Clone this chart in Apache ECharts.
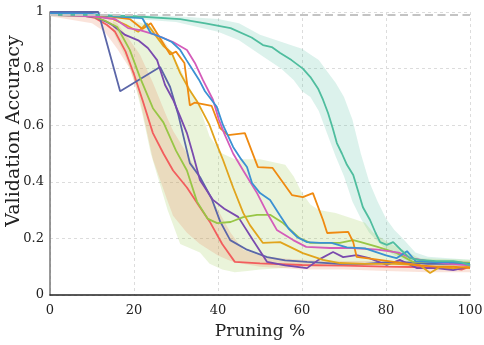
<!DOCTYPE html>
<html>
<head>
<meta charset="utf-8">
<script src="https://cdn.jsdelivr.net/npm/echarts@6/dist/echarts.min.js"></script>
<style>
  html, body { margin: 0; padding: 0; background: #fff; }
  #chart { width: 484px; height: 345px; }
</style>
</head>
<body>
<div id="chart"></div>
<script>
// x ticks / y ticks
const xTicks = [0, 20, 40, 60, 80, 100];
const yTicks = [0, 0.2, 0.4, 0.6, 0.8, 1];
const baseline = 0.99;

// series values: [pruning %, accuracy]
const teal = [[0,0.99],[10,0.99],[20,0.985],[31,0.975],[37,0.96],[43,0.943],[48,0.91],[50.7,0.883],[52.8,0.876],[54.8,0.855],[57.5,0.83],[60.2,0.8],[62,0.77],[63.8,0.73],[65,0.69],[66.2,0.643],[67.3,0.59],[68.3,0.537],[69.5,0.5],[70.7,0.46],[72.2,0.424],[73.3,0.37],[74.5,0.31],[76.2,0.265],[77.5,0.22],[78.6,0.187],[80.2,0.177],[81.7,0.187],[83.5,0.16],[85.7,0.13],[88,0.124],[92,0.12],[96,0.12],[98,0.115],[100,0.105]];
const blue = [[0,0.995],[5,0.995],[10,0.993],[15,0.985],[18,0.982],[22,0.978],[24,0.925],[26.7,0.91],[29,0.894],[31,0.866],[32.5,0.83],[34,0.795],[35.5,0.76],[36.9,0.72],[39.7,0.665],[41.2,0.6],[43.6,0.523],[45.5,0.48],[46.9,0.452],[48.1,0.396],[50,0.36],[52.4,0.336],[54.8,0.28],[56.8,0.235],[58.8,0.205],[61.2,0.187],[64.3,0.184],[67,0.184],[70.7,0.168],[75,0.165],[80,0.14],[82.5,0.13],[85,0.155],[87,0.12],[92,0.115],[96,0.115],[100,0.11]];
const pink = [[0,0.99],[10,0.985],[15.5,0.975],[18.6,0.943],[21.4,0.936],[25,0.92],[29.3,0.894],[32.6,0.866],[34.5,0.82],[36.4,0.76],[38.8,0.69],[40.2,0.62],[41.5,0.57],[43.6,0.5],[46,0.44],[49.3,0.36],[51.7,0.29],[54,0.23],[57.9,0.194],[61,0.17],[66.7,0.166],[72,0.166],[78,0.16],[83,0.15],[86,0.13],[90,0.12],[95,0.11],[100,0.105]];
const orange = [[0,0.99],[10,0.99],[14,0.985],[19,0.975],[22,0.94],[24,0.96],[26.5,0.9],[28.6,0.85],[30,0.86],[32,0.82],[33.3,0.67],[34.5,0.68],[38.5,0.668],[40.5,0.59],[42.4,0.565],[46.4,0.572],[49.5,0.452],[53,0.449],[57.6,0.353],[60.2,0.346],[62.6,0.36],[65,0.265],[66,0.219],[71,0.223],[72.2,0.187],[73,0.135],[78,0.125],[84,0.113],[88,0.105],[92,0.1],[96,0.1],[100,0.095]];
const gold = [[0,0.99],[10,0.99],[15,0.975],[18,0.955],[21,0.93],[23,0.96],[25,0.92],[27,0.88],[29,0.855],[31,0.784],[33,0.73],[35,0.685],[38,0.6],[39.5,0.54],[41.2,0.477],[43.6,0.38],[46,0.29],[47.6,0.247],[50.7,0.184],[54.8,0.187],[60.2,0.148],[65,0.124],[69,0.113],[75,0.11],[82,0.11],[88,0.106],[90.5,0.078],[92.8,0.099],[96,0.095],[100,0.1]];
const green = [[0,0.99],[10,0.985],[13,0.97],[16,0.947],[19,0.866],[21.4,0.77],[24.5,0.66],[27,0.61],[30,0.51],[32.6,0.44],[35,0.33],[37.5,0.27],[39.8,0.254],[43,0.258],[46,0.275],[49.3,0.283],[52.5,0.283],[55.5,0.254],[59.5,0.2],[62,0.184],[69,0.184],[72.2,0.194],[74,0.187],[78,0.17],[82.6,0.148],[86.4,0.117],[93,0.117],[100,0.113]];
const purple = [[0,0.99],[5.5,0.99],[10.7,0.982],[13.5,0.965],[14.8,0.954],[17.9,0.919],[21,0.9],[23.3,0.873],[25.5,0.83],[27.4,0.742],[29.3,0.69],[31,0.63],[32.6,0.572],[34,0.5],[35.7,0.406],[38.8,0.336],[41.5,0.305],[44.8,0.276],[48.3,0.194],[51.7,0.117],[56,0.105],[61.2,0.095],[64,0.125],[67.4,0.152],[69.8,0.134],[73,0.141],[76,0.13],[80.2,0.106],[83.3,0.124],[87.4,0.095],[92,0.095],[96,0.088],[100,0.1]];
const slate = [[0,1],[5,1],[11.5,1],[16.7,0.72],[26.2,0.806],[28.6,0.735],[30.5,0.64],[33.3,0.466],[35.7,0.417],[38.5,0.34],[40.5,0.26],[42.9,0.194],[46.9,0.16],[51.7,0.134],[56,0.122],[61.2,0.117],[69,0.11],[75,0.11],[80,0.115],[85,0.115],[90,0.11],[95,0.11],[100,0.11]];
const red = [[0,0.99],[7,0.99],[10.7,0.979],[13.5,0.955],[15.5,0.93],[18,0.86],[20,0.78],[22,0.69],[24.5,0.572],[27,0.5],[29.3,0.44],[32.6,0.38],[35.7,0.31],[38,0.26],[41,0.18],[44,0.117],[50,0.112],[60,0.106],[70,0.104],[80,0.1],[90,0.098],[95,0.095],[98,0.09],[100,0.1]];

// shaded spread: [pruning %, low, high]
const tealBand = [[0,0.985,0.995],[20,0.975,0.99],[30,0.965,0.985],[40,0.93,0.975],[45,0.9,0.96],[50,0.85,0.92],[55,0.8,0.895],[58,0.76,0.88],[60,0.72,0.87],[62,0.7,0.85],[64,0.65,0.83],[66,0.57,0.79],[68,0.49,0.75],[70,0.42,0.7],[72,0.33,0.62],[74,0.27,0.5],[76,0.22,0.4],[78,0.19,0.33],[80,0.16,0.27],[82,0.14,0.23],[84,0.125,0.2],[87,0.115,0.15],[90,0.105,0.135],[100,0.1,0.125]];
const greenBand = [[15,0.93,0.98],[18,0.84,0.975],[20,0.76,0.97],[22,0.64,0.96],[24,0.5,0.95],[26,0.4,0.92],[28,0.3,0.88],[31,0.18,0.8],[35.7,0.15,0.66],[38,0.11,0.56],[41,0.09,0.5],[44,0.08,0.48],[47,0.085,0.48],[50,0.09,0.48],[56,0.095,0.46],[58,0.1,0.42],[60,0.1,0.36],[62,0.1,0.32],[64,0.1,0.3],[68,0.105,0.29],[72,0.105,0.27],[75,0.105,0.255],[77,0.105,0.22],[80,0.105,0.19],[84,0.105,0.16],[88,0.105,0.13],[100,0.1,0.125]];
const redBand = [[0,0.985,0.995],[10,0.96,0.99],[13,0.93,0.985],[16,0.87,0.96],[19,0.8,0.9],[21.4,0.69,0.85],[24.5,0.48,0.75],[27.8,0.34,0.63],[29.3,0.28,0.58],[32.6,0.22,0.5],[35.7,0.18,0.42],[40,0.14,0.3],[43,0.12,0.22],[46,0.11,0.16],[50,0.1,0.14],[55,0.095,0.13],[60,0.09,0.125],[70,0.09,0.12],[80,0.085,0.12],[90,0.08,0.12],[100,0.08,0.12]];

const font = 'DejaVu Serif';

// band drawn as one polygon through the axis scales
function bandSeries(name, band, color) {
  return {
    name: name, type: 'custom', data: band, silent: true, z: 1,
    encode: { x: 0, y: [1, 2] },
    renderItem: (params, api) => {
      if (params.dataIndex !== 0) return null;
      const top = band.map(d => api.coord([d[0], d[2]]));
      const bottom = band.slice().reverse().map(d => api.coord([d[0], d[1]]));
      return {
        type: 'polygon',
        shape: { points: top.concat(bottom) },
        style: { fill: color }
      };
    }
  };
}

function lineSeries(name, data, color) {
  return {
    name: name, type: 'line', data: data, symbol: 'none',
    lineStyle: { color: color, width: 1.8 }, z: 3
  };
}

const chart = echarts.init(document.getElementById('chart'));

const option = {
  animation: false,
  grid: { left: 50, right: 14, top: 12, bottom: 50, containLabel: false, outerBoundsMode: 'none' },
  graphic: [{
    type: 'text', x: 14, y: 131, rotation: Math.PI / 2,
    style: {
      text: 'Validation Accuracy', fontFamily: font, fontSize: 19, fill: '#222',
      align: 'center', verticalAlign: 'middle'
    }
  }],
  xAxis: {
    type: 'value', min: 0, max: 100, interval: 20,
    name: 'Pruning %', nameLocation: 'middle', nameGap: 28,
    nameTextStyle: { fontFamily: font, fontSize: 17, color: '#222' },
    axisLine: { show: true, onZero: false, lineStyle: { color: '#222', width: 1.5 } },
    axisTick: { show: false },
    axisLabel: { fontFamily: font, fontSize: 13, color: '#222', margin: 9 },
    splitLine: { show: true, lineStyle: { color: '#dcdcdc', type: [3, 3], width: 1 } }
  },
  yAxis: {
    type: 'value', min: 0, max: 1, interval: 0.2,
    axisLine: { show: true, lineStyle: { color: '#777', width: 1.5 } },
    axisTick: { show: false },
    axisLabel: { fontFamily: font, fontSize: 13, color: '#222', margin: 6 },
    splitLine: { show: true, lineStyle: { color: '#dcdcdc', type: [3, 3], width: 1 } }
  },
  series: [
    bandSeries('tealBand', tealBand, 'rgba(79,189,158,0.2)'),
    bandSeries('greenBand', greenBand, 'rgba(152,198,70,0.2)'),
    bandSeries('redBand', redBand, 'rgba(235,140,100,0.24)'),
    {
      name: 'baseline', type: 'line', data: [], silent: true,
      markLine: {
        silent: true, symbol: 'none', label: { show: false },
        lineStyle: { color: '#c4c4c4', type: [8, 4.5], width: 2 },
        data: [{ yAxis: baseline }]
      }
    },
    lineSeries('red', red, '#f25d5d'),
    lineSeries('slate', slate, '#5b66a8'),
    lineSeries('purple', purple, '#7a4aae'),
    lineSeries('green', green, '#98c646'),
    lineSeries('gold', gold, '#e1a41c'),
    lineSeries('orange', orange, '#ef8a10'),
    lineSeries('pink', pink, '#d45cba'),
    lineSeries('blue', blue, '#3b91d3'),
    lineSeries('teal', teal, '#4fbd9e')
  ]
};

chart.setOption(option);
window.addEventListener('resize', () => chart.resize());
</script>
</body>
</html>
